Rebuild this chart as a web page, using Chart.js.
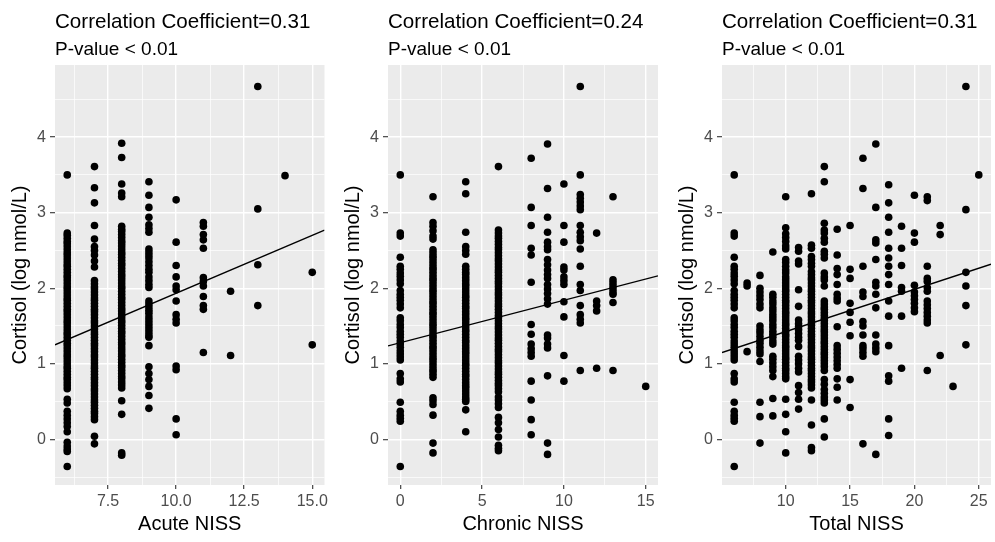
<!DOCTYPE html>
<html><head><meta charset="utf-8">
<script src="https://cdn.jsdelivr.net/npm/chart.js@4.4.1/dist/chart.umd.min.js"></script>
<style>
html,body{margin:0;padding:0;background:#fff;}
#wrap{position:relative;width:995px;height:542px;overflow:hidden;background:#fff;}
canvas{position:absolute;top:0;}
</style></head><body>
<div id="wrap">
<canvas id="c1" width="333" height="542" style="left:0px;width:333px;height:542px"></canvas>
<canvas id="c2" width="333" height="542" style="left:333px;width:333px;height:542px"></canvas>
<canvas id="c3" width="328" height="542" style="left:667px;width:328px;height:542px"></canvas>
</div>
<script>
// ---------------- DATA ----------------
const panelTitles = ['Correlation Coefficient=0.31', 'Correlation Coefficient=0.24', 'Correlation Coefficient=0.31'];
const panelSubtitles = ['P-value < 0.01', 'P-value < 0.01', 'P-value < 0.01'];
const xAxisTitles = ['Acute NISS', 'Chronic NISS', 'Total NISS'];
const yAxisTitle = 'Cortisol (log nmol/L)';

const acuteTickLabels = ['7.5', '10.0', '12.5', '15.0'];
const chronicTickLabels = ['0', '5', '10', '15'];
const totalTickLabels = ['10', '15', '20', '25'];
const yTickLabels = ['0', '1', '2', '3', '4'];

// fitted regression lines (intercept, slope)
const fitIntercepts = [0.398, 1.278, 0.865];
const fitSlopes = [0.1535, 0.0562, 0.056];

// Panel 1: Acute NISS
const acuteNiss = [6, 7, 8, 9, 10, 11, 12, 13, 14, 15];
const cortisolByAcute = [
  [3.50, 2.73, 2.70, 2.66, 2.62, 2.59, 2.55, 2.51, 2.47, 2.44, 2.40, 2.36, 2.32, 2.29, 2.25, 2.21, 2.17, 2.14, 2.10, 2.06, 2.02, 1.99, 1.95, 1.91, 1.87, 1.84, 1.80, 1.76, 1.72, 1.69, 1.65, 1.61, 1.57, 1.54, 1.50, 1.46, 1.42, 1.39, 1.35, 1.31, 1.27, 1.24, 1.20, 1.16, 1.12, 1.09, 1.05, 1.01, 0.97, 0.94, 0.90, 0.86, 0.82, 0.79, 0.75, 0.71, 0.67, 0.53, 0.48, 0.37, 0.32, 0.27, 0.22, 0.17, 0.10, -0.04, -0.09, -0.13, -0.16, -0.36],
  [3.61, 3.33, 3.13, 2.83, 2.65, 2.55, 2.50, 2.44, 2.36, 2.28, 2.10, 2.06, 2.02, 1.99, 1.95, 1.91, 1.87, 1.84, 1.80, 1.76, 1.72, 1.69, 1.65, 1.61, 1.57, 1.54, 1.50, 1.46, 1.42, 1.39, 1.35, 1.31, 1.27, 1.24, 1.20, 1.16, 1.12, 1.09, 1.05, 1.01, 0.97, 0.94, 0.90, 0.86, 0.82, 0.79, 0.75, 0.71, 0.67, 0.64, 0.60, 0.56, 0.52, 0.49, 0.45, 0.41, 0.37, 0.34, 0.30, 0.26, 0.04, -0.06],
  [3.92, 3.73, 3.38, 3.26, 3.21, 2.82, 2.78, 2.75, 2.71, 2.67, 2.63, 2.60, 2.56, 2.52, 2.48, 2.45, 2.41, 2.37, 2.33, 2.30, 2.26, 2.22, 2.18, 2.15, 2.11, 2.07, 2.03, 2.00, 1.96, 1.92, 1.88, 1.85, 1.81, 1.77, 1.73, 1.70, 1.66, 1.62, 1.58, 1.55, 1.51, 1.47, 1.43, 1.40, 1.36, 1.32, 1.28, 1.25, 1.21, 1.17, 1.13, 1.10, 1.06, 1.02, 0.98, 0.95, 0.91, 0.87, 0.83, 0.80, 0.76, 0.72, 0.68, 0.51, 0.33, -0.18, -0.21],
  [3.41, 3.23, 3.07, 2.94, 2.84, 2.79, 2.74, 2.52, 2.48, 2.44, 2.40, 2.35, 2.30, 2.25, 2.21, 2.15, 2.10, 2.05, 2.01, 1.83, 1.79, 1.75, 1.71, 1.67, 1.62, 1.58, 1.54, 1.50, 1.46, 1.42, 1.38, 1.35, 1.24, 0.96, 0.87, 0.79, 0.70, 0.58, 0.41],
  [3.17, 2.61, 2.30, 2.15, 2.03, 1.98, 1.83, 1.65, 1.59, 1.54, 0.97, 0.92, 0.27, 0.06],
  [2.87, 2.82, 2.71, 2.64, 2.53, 2.14, 2.09, 2.03, 1.89, 1.77, 1.72, 1.15],
  [1.96, 1.11],
  [4.67, 3.05, 2.31, 1.77],
  [3.49],
  [2.21, 1.25]
];

// Panel 2: Chronic NISS
const chronicNiss = [0, 2, 4, 6, 8, 9, 10, 11, 12, 13, 15];
const cortisolByChronic = [
  [3.50, 2.73, 2.69, 2.41, 2.29, 2.25, 2.20, 2.16, 2.11, 2.06, 1.97, 1.92, 1.88, 1.84, 1.79, 1.74, 1.61, 1.57, 1.52, 1.48, 1.43, 1.39, 1.35, 1.30, 1.26, 1.22, 1.17, 1.13, 1.09, 1.05, 0.87, 0.80, 0.76, 0.49, 0.37, 0.32, 0.28, 0.24, -0.36],
  [3.21, 2.87, 2.82, 2.76, 2.69, 2.65, 2.51, 2.47, 2.43, 2.40, 2.36, 2.32, 2.28, 2.25, 2.21, 2.17, 2.13, 2.10, 2.06, 2.02, 1.98, 1.95, 1.91, 1.87, 1.83, 1.80, 1.76, 1.72, 1.68, 1.65, 1.61, 1.57, 1.53, 1.50, 1.46, 1.42, 1.38, 1.35, 1.31, 1.27, 1.23, 1.20, 1.16, 1.12, 1.08, 1.05, 1.01, 0.97, 0.93, 0.90, 0.86, 0.82, 0.55, 0.51, 0.46, 0.32, -0.05, -0.18],
  [3.41, 3.25, 2.74, 2.55, 2.50, 2.45, 2.29, 2.25, 2.21, 2.18, 2.14, 2.10, 2.06, 2.03, 1.99, 1.95, 1.91, 1.88, 1.84, 1.80, 1.76, 1.73, 1.69, 1.65, 1.61, 1.58, 1.54, 1.50, 1.46, 1.43, 1.39, 1.35, 1.31, 1.28, 1.24, 1.20, 1.16, 1.13, 1.09, 1.05, 1.01, 0.98, 0.94, 0.90, 0.86, 0.83, 0.79, 0.75, 0.71, 0.68, 0.64, 0.60, 0.56, 0.53, 0.50, 0.39, 0.10],
  [3.61, 2.77, 2.73, 2.69, 2.66, 2.62, 2.58, 2.54, 2.51, 2.47, 2.43, 2.39, 2.36, 2.32, 2.28, 2.24, 2.21, 2.17, 2.13, 2.09, 2.06, 2.02, 1.98, 1.94, 1.91, 1.87, 1.83, 1.79, 1.76, 1.72, 1.68, 1.64, 1.61, 1.57, 1.53, 1.49, 1.46, 1.42, 1.38, 1.34, 1.31, 1.27, 1.23, 1.19, 1.16, 1.12, 1.08, 1.04, 1.01, 0.97, 0.93, 0.89, 0.86, 0.82, 0.78, 0.74, 0.71, 0.67, 0.63, 0.56, 0.52, 0.47, 0.42, 0.29, 0.22, 0.13, 0.03, -0.08, -0.12, -0.15],
  [3.72, 3.07, 2.83, 2.53, 2.44, 2.08, 1.52, 1.39, 1.26, 1.20, 1.15, 1.10, 0.77, 0.52, 0.26, 0.06],
  [3.91, 3.32, 2.94, 2.74, 2.61, 2.55, 2.51, 2.38, 2.31, 2.24, 2.18, 2.13, 2.05, 1.99, 1.93, 1.86, 1.79, 1.38, 1.34, 1.26, 1.21, 0.84, -0.05, -0.20],
  [3.38, 2.83, 2.61, 2.28, 2.24, 2.15, 2.10, 2.05, 1.82, 1.62, 1.11, 0.77],
  [4.67, 3.50, 3.24, 3.19, 3.14, 3.09, 3.04, 2.83, 2.74, 2.68, 2.63, 2.52, 2.29, 2.05, 1.97, 1.77, 1.65, 1.59, 1.54, 0.91],
  [2.73, 1.83, 1.77, 1.70, 0.94],
  [3.21, 2.11, 2.07, 2.03, 1.99, 1.95, 1.92, 1.81, 0.91],
  [0.70]
];

// Panel 3: Total NISS
const totalNiss = [6, 7, 8, 9, 10, 11, 12, 13, 14, 15, 16, 17, 18, 19, 20, 21, 22, 23, 24, 25];
const cortisolByTotal = [
  [3.50, 2.73, 2.69, 2.41, 2.29, 2.25, 2.20, 2.16, 2.11, 2.06, 1.97, 1.92, 1.88, 1.84, 1.79, 1.74, 1.61, 1.57, 1.52, 1.48, 1.43, 1.39, 1.35, 1.30, 1.26, 1.22, 1.17, 1.13, 1.09, 1.05, 0.87, 0.80, 0.76, 0.49, 0.37, 0.32, 0.28, 0.24, -0.36],
  [2.07, 2.03, 1.16],
  [2.17, 2.00, 1.95, 1.90, 1.85, 1.79, 1.74, 1.50, 1.45, 1.41, 1.36, 1.31, 1.27, 1.22, 1.17, 1.13, 1.03, 0.49, 0.30, -0.05],
  [2.48, 1.92, 1.88, 1.83, 1.79, 1.74, 1.70, 1.65, 1.61, 1.57, 1.52, 1.48, 1.43, 1.39, 1.35, 1.30, 1.26, 1.10, 1.06, 1.01, 0.96, 0.91, 0.83, 0.54, 0.31],
  [3.21, 2.80, 2.72, 2.67, 2.62, 2.56, 2.52, 2.38, 2.34, 2.29, 2.24, 2.20, 2.15, 2.11, 2.07, 2.03, 1.99, 1.96, 1.92, 1.88, 1.84, 1.81, 1.77, 1.73, 1.69, 1.66, 1.62, 1.58, 1.54, 1.51, 1.47, 1.43, 1.39, 1.36, 1.32, 1.28, 1.24, 1.21, 1.17, 1.13, 1.09, 1.06, 1.02, 0.98, 0.94, 0.91, 0.87, 0.83, 0.80, 0.53, 0.33, 0.10, -0.18],
  [2.54, 2.49, 2.36, 2.32, 1.98, 1.76, 1.58, 1.53, 1.49, 1.45, 1.40, 1.35, 1.31, 1.23, 1.10, 1.05, 1.00, 0.94, 0.89, 0.71, 0.62, 0.53, 0.40],
  [3.25, 2.57, 2.53, 2.42, 2.38, 2.33, 2.29, 2.22, 2.18, 2.14, 2.11, 2.07, 2.03, 1.99, 1.96, 1.92, 1.88, 1.84, 1.81, 1.77, 1.73, 1.69, 1.66, 1.62, 1.58, 1.54, 1.51, 1.47, 1.43, 1.39, 1.36, 1.32, 1.28, 1.24, 1.21, 1.17, 1.13, 1.09, 1.06, 1.02, 0.98, 0.94, 0.91, 0.87, 0.83, 0.79, 0.76, 0.72, 0.68, 0.52, 0.19, -0.11, -0.15],
  [3.61, 3.41, 2.86, 2.77, 2.73, 2.66, 2.61, 2.49, 2.45, 2.40, 2.20, 2.15, 2.11, 2.03, 1.83, 1.79, 1.75, 1.72, 1.68, 1.64, 1.60, 1.57, 1.53, 1.49, 1.45, 1.42, 1.38, 1.34, 1.30, 1.27, 1.23, 1.19, 1.15, 1.12, 1.08, 1.04, 1.00, 0.96, 0.91, 0.79, 0.73, 0.66, 0.61, 0.56, 0.52, 0.48, 0.27, 0.03],
  [2.78, 2.44, 2.26, 2.18, 2.05, 1.92, 1.87, 1.83, 1.49, 1.24, 1.19, 1.14, 1.09, 1.04, 0.99, 0.94, 0.80, 0.69, 0.52],
  [2.83, 2.25, 2.13, 1.80, 1.68, 1.55, 1.37, 0.79, 0.42],
  [3.72, 3.32, 2.29, 1.95, 1.89, 1.56, 1.50, 1.38, 1.24, 1.20, 1.15, 1.10, -0.06],
  [3.91, 3.07, 2.64, 2.60, 2.38, 2.08, 2.03, 1.92, 1.74, 1.38, 1.26, 1.21, 1.16, -0.20],
  [3.37, 3.13, 2.94, 2.74, 2.53, 2.40, 2.29, 2.18, 2.05, 1.83, 1.63, 1.24, 0.84, 0.77, 0.27, 0.05],
  [2.82, 2.53, 2.30, 2.01, 1.96, 1.63, 0.94],
  [3.23, 2.73, 2.61, 2.04, 1.95, 1.90, 1.85, 1.80, 1.74, 1.69],
  [3.21, 3.16, 2.29, 2.13, 2.09, 2.01, 1.96, 1.83, 1.78, 1.73, 1.68, 1.63, 1.58, 1.54, 0.91],
  [2.83, 2.71, 1.11],
  [0.70],
  [4.67, 3.04, 2.21, 2.03, 1.77, 1.25],
  [3.50]
];

// ---------------- RENDER ----------------
const FAMILY = '"Liberation Sans", Arial, Helvetica, sans-serif';

const ggPlugin = {
  id: 'gg',
  beforeDraw(chart, args, opts) {
    const ctx = chart.ctx, a = chart.chartArea;
    ctx.save();
    ctx.fillStyle = '#EBEBEB';
    ctx.fillRect(a.left, a.top, a.right - a.left, a.bottom - a.top);
    ctx.restore();
  },
  afterDraw(chart, args, opts) {
    const ctx = chart.ctx, a = chart.chartArea;
    ctx.save();
    ctx.fillStyle = '#000';
    ctx.textAlign = 'left';
    ctx.textBaseline = 'alphabetic';
    ctx.font = '20.6px ' + FAMILY;
    ctx.fillText(opts.title, a.left, 27.5);
    ctx.font = '19px ' + FAMILY;
    ctx.fillText(opts.subtitle, a.left, 55);
    ctx.restore();
  }
};

function makeTicks(labels, min, max) {
  const majors = labels.map(Number);
  const step = majors[1] - majors[0];
  const all = [];
  const start = majors[0] - step * Math.ceil((majors[0] - min) / step);
  for (let v = start; v <= max + 1e-9; v += step / 2) {
    if (v >= min - 1e-9) all.push(+v.toFixed(6));
  }
  const labelMap = new Map();
  majors.forEach((m, i) => labelMap.set(+m.toFixed(6), labels[i]));
  return { all, labelMap };
}

function axisOpts(labels, min, max, isX, titleText) {
  const { all, labelMap } = makeTicks(labels, min, max);
  const isMajor = ctx => ctx.tick && labelMap.has(+(+ctx.tick.value).toFixed(6));
  return {
    type: 'linear',
    min: min, max: max,
    afterBuildTicks: s => { s.ticks = all.map(v => ({ value: v })); },
    afterFit: s => { if (isX) s.height = 57; else s.width = 55; },
    ticks: {
      autoSkip: false, maxRotation: 0, minRotation: 0,
      color: '#4D4D4D',
      font: { family: FAMILY, size: 16 },
      padding: isX ? 3 : 4,
      callback: v => { const k = +(+v).toFixed(6); return labelMap.has(k) ? labelMap.get(k) : ''; }
    },
    grid: {
      color: '#FFFFFF',
      lineWidth: ctx => isMajor(ctx) ? 1.4 : 0.7,
      drawTicks: true,
      tickLength: isX ? 4 : 5,
      tickWidth: 1.1,
      tickColor: ctx => isMajor(ctx) ? '#333333' : 'rgba(0,0,0,0)'
    },
    border: { display: false },
    title: {
      display: true, text: titleText, color: '#000',
      font: { family: FAMILY, size: 20 },
      padding: isX ? { top: 0, bottom: 5.3 } : { top: 8.7, bottom: 0 }
    }
  };
}

const panels = [
  { id: 'c1', xs: acuteNiss, ys: cortisolByAcute, xMin: 5.55, xMax: 15.45, xLabels: acuteTickLabels, padRight: 8.5 },
  { id: 'c2', xs: chronicNiss, ys: cortisolByChronic, xMin: -0.75, xMax: 15.75, xLabels: chronicTickLabels, padRight: 8 },
  { id: 'c3', xs: totalNiss, ys: cortisolByTotal, xMin: 5.05, xMax: 25.95, xLabels: totalTickLabels, padRight: 3.5 }
];
const yMin = -0.605, yMax = 4.955;

panels.forEach((p, i) => {
  const pts = [];
  p.xs.forEach((x, j) => p.ys[j].forEach(y => pts.push({ x: x, y: y })));
  const line = [p.xMin, p.xMax].map(x => ({ x: x, y: fitIntercepts[i] + fitSlopes[i] * x }));
  new Chart(document.getElementById(p.id), {
    type: 'scatter',
    data: {
      datasets: [
        { data: pts, pointRadius: 3.8, pointBackgroundColor: '#000', pointBorderWidth: 0, pointBorderColor: '#000', showLine: false },
        { data: line, showLine: true, borderColor: '#000', borderWidth: 1.4, pointRadius: 0, fill: false }
      ]
    },
    options: {
      responsive: false, animation: false, events: [],
      layout: { padding: { top: 65, left: 0, right: p.padRight, bottom: 0 } },
      plugins: {
        legend: { display: false }, tooltip: { enabled: false },
        gg: { title: panelTitles[i], subtitle: panelSubtitles[i] }
      },
      scales: {
        x: axisOpts(p.xLabels, p.xMin, p.xMax, true, xAxisTitles[i]),
        y: axisOpts(yTickLabels, yMin, yMax, false, yAxisTitle)
      }
    },
    plugins: [ggPlugin]
  });
});
</script>
</body></html>
